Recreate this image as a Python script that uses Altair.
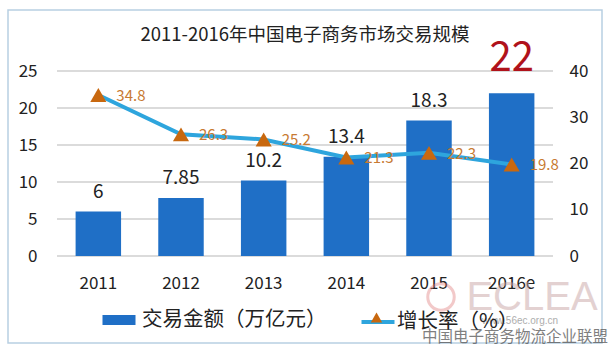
import altair as alt
import pandas as pd

years = ["2011", "2012", "2013", "2014", "2015", "2016e"]
amount = [6, 7.85, 10.2, 13.4, 18.3, 22]
growth = [34.8, 26.3, 25.2, 21.3, 22.3, 19.8]
amount_labels = ["6", "7.85", "10.2", "13.4", "18.3", "22"]
growth_labels = ["34.8", "26.3", "25.2", "21.3", "22.3", "19.8"]
left_ticks = [0, 5, 10, 15, 20, 25]
right_ticks = [0, 10, 20, 30, 40]
series_bar = "交易金额（万亿元）"
series_line = "增长率（%）"
title_text = "2011-2016年中国电子商务市场交易规模"
watermark_logo = ["ECLEA"]
watermark_url = ["www.56ec.org.cn"]
watermark_text = ["中国电子商务物流企业联盟"]

FONT = "Noto Sans CJK SC"
BAR = "#1f6fc6"
LINE = "#2ea5dd"
TRI = "#c8680f"
GLAB = "#c87a32"

df = pd.DataFrame({
    "year": years,
    "amount": amount,
    "growth": growth,
    "alab": amount_labels,
    "glab": growth_labels,
    "s1": [series_bar] * len(years),
    "s2": [series_line] * len(years),
    "s3": ["tri"] * len(years),
})

base = alt.Chart(df)

x = alt.X(
    "year:N", sort=years, title=None,
    scale=alt.Scale(paddingInner=0.45, paddingOuter=0.225),
    axis=alt.Axis(labelFontSize=17, labelAngle=0, domain=False, ticks=False,
                  labelPadding=19, labelColor="#222", labelFont=FONT),
)
xs = alt.X("year:N", sort=years)
LEFT_DOM = [0, 25]
RIGHT_DOM = [0, 40]

y_left = alt.Y(
    "amount:Q", title=None, scale=alt.Scale(domain=LEFT_DOM),
    axis=alt.Axis(values=left_ticks, grid=False, domain=False, ticks=False,
                  labelFontSize=17, labelPadding=20, labelColor="#222",
                  labelFont=FONT, labelOverlap=False),
)
y_right = alt.Y(
    "growth:Q", title=None, scale=alt.Scale(domain=RIGHT_DOM),
    axis=alt.Axis(orient="right", values=right_ticks, grid=False,
                  domain=False, ticks=False, labelFontSize=17, labelPadding=16,
                  labelColor="#222", labelFont=FONT, labelOverlap=False),
)
y_left_na = alt.Y("amount:Q", scale=alt.Scale(domain=LEFT_DOM), axis=None)
y_right_na = alt.Y("growth:Q", scale=alt.Scale(domain=RIGHT_DOM), axis=None)

grid = alt.Chart(pd.DataFrame({"tick": left_ticks})).mark_rule(
    color="#cfcfcf", strokeWidth=1.6
).encode(
    y=alt.Y("tick:Q", scale=alt.Scale(domain=LEFT_DOM), axis=None),
)

bars = base.mark_bar().encode(
    x=x, y=y_left,
    color=alt.Color("s1:N", scale=alt.Scale(range=[BAR]),
                    legend=alt.Legend(orient="none", legendX=51, legendY=238, title=None,
                                      symbolType="M-1.65,-0.5H1.65V0.5H-1.65Z",
                                      symbolSize=400, labelOffset=12, labelLimit=400,
                                      labelFontSize=20.5, labelFont=FONT,
                                      labelColor="#222", symbolOpacity=1)),
)

bar_text = base.transform_filter("datum.year != '2016e'").mark_text(
    baseline="alphabetic", dy=-14, fontSize=19, font=FONT, color="#222"
).encode(x=xs, y=y_left_na, text="alab:N")

bar_text_big = base.transform_filter("datum.year == '2016e'").mark_text(
    baseline="alphabetic", dy=-22, fontSize=40, font=FONT, color="#b0121b"
).encode(x=xs, y=y_left_na, text="alab:N")

line = base.mark_line(strokeWidth=4).encode(
    x=xs, y=y_right,
    stroke=alt.Stroke("s2:N", scale=alt.Scale(range=[LINE]),
                      legend=alt.Legend(orient="none", legendX=308, legendY=238, title=None,
                                        symbolType="M-1.5,0H1.5", symbolSize=484,
                                        symbolStrokeWidth=4, labelOffset=6, labelLimit=300,
                                        labelFontSize=20.5, labelFont=FONT,
                                        labelColor="#222")),
)
points = base.mark_point(shape="triangle-up", filled=True, size=260, opacity=1).encode(
    x=xs, y=y_right_na,
    fill=alt.Fill("s3:N", scale=alt.Scale(range=[TRI]),
                  legend=alt.Legend(orient="none", legendX=313, legendY=240, title=None,
                                    symbolType="triangle-up", symbolSize=130,
                                    labelOpacity=0, labelFontSize=10)),
)
glabels = base.mark_text(align="left", baseline="middle", dx=18, dy=1,
                         fontSize=15, font=FONT, color=GLAB).encode(
    x=xs, y=y_right_na, text="glab:N")

frame = alt.Chart(pd.DataFrame({"a": [0]})).mark_rect(
    filled=False, stroke="#b8cfe2", strokeWidth=1.5
).encode(x=alt.value(-49), x2=alt.value(545), y=alt.value(-61), y2=alt.value(272))

wm_circle = alt.Chart(pd.DataFrame({"a": [0]})).mark_point(
    shape="circle", filled=False, stroke="#e07a7a", strokeWidth=3, size=700, opacity=0.4
).encode(x=alt.value(384), y=alt.value(226))

wm_logo = alt.Chart(pd.DataFrame({"t": watermark_logo})).mark_text(
    fontSize=40, font="Liberation Sans", color="#c9a5a5", opacity=0.5, align="center",
    baseline="middle"
).encode(text="t:N", x=alt.value(475), y=alt.value(227))

wm_url = alt.Chart(pd.DataFrame({"t": watermark_url})).mark_text(
    fontSize=10, font="Liberation Sans", color="#999", opacity=0.8, align="center",
    baseline="middle"
).encode(text="t:N", x=alt.value(463), y=alt.value(250))

wm_text = alt.Chart(pd.DataFrame({"t": watermark_text})).mark_text(
    fontSize=15.5, font=FONT, color="#555", opacity=0.75, align="center", baseline="middle"
).encode(text="t:N", x=alt.value(458), y=alt.value(266))

chart = alt.layer(
    frame, grid, bars, line, points, glabels, bar_text, bar_text_big,
    wm_circle, wm_logo, wm_url, wm_text
).resolve_scale(
    y="independent", color="independent", stroke="independent", fill="independent"
).properties(
    width=496, height=185,
    title=alt.TitleParams(title_text, fontSize=18.5, font=FONT, fontWeight="normal",
                          color="#222", anchor="middle", offset=-35, frame="group"),
    autosize=alt.AutoSizeParams(type="none"),
    padding={"left": 57, "top": 71, "right": 62, "bottom": 98},
    background="white",
).configure_view(stroke=None)

chart.save("out.html", embed_options={"renderer": "svg", "actions": False})
